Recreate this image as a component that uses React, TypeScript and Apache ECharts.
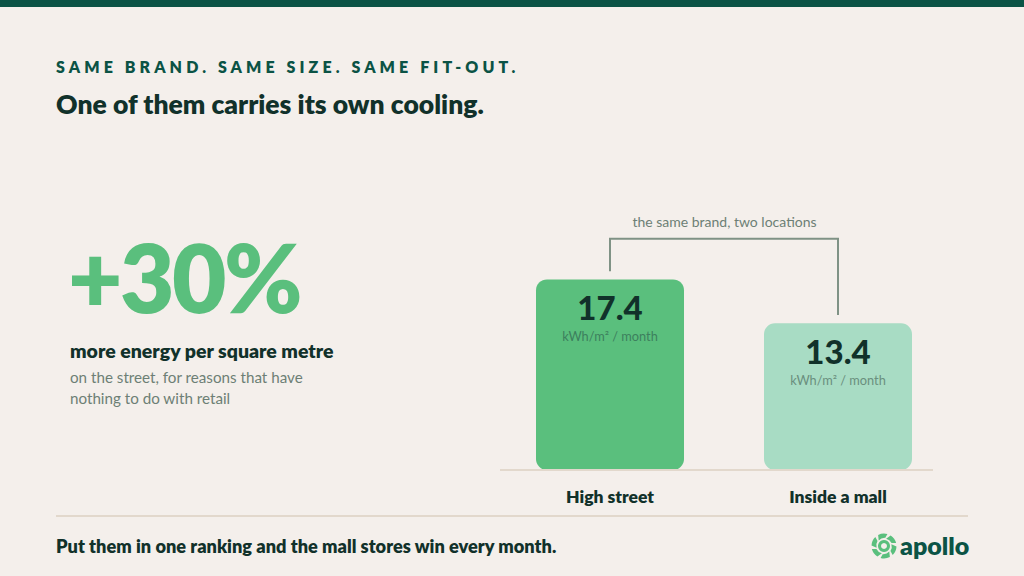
import React, { useEffect, useRef } from "react";
import * as echarts from "echarts";

const categories = ["High street", "Inside a mall"];
const values = [17.4, 13.4];
const barColors = ["#5abf7d", "#a8dcc4"];
const unitColors = ["#3d7f5e", "#6a8f7e"];
const unit = "kWh/m² / month";
const bracketTop = 21.1;
const bracketGap = 0.75;
const eyebrow = "SAME BRAND. SAME SIZE. SAME FIT-OUT.";
const title = "One of them carries its own cooling.";
const bigNumber = "+30%";
const subhead = "more energy per square metre";
const bodyLines = ["on the street, for reasons that have", "nothing to do with retail"];
const bracketLabel = "the same brand, two locations";
const takeaway = "Put them in one ranking and the mall stores win every month.";
const logoName = "apollo";

const FONT = "Lato";
const DARK = "#11312a";
const BRAND = "#0b5345";
const GREY = "#6d7f75";
const RULE = "#e2d8cc";

function petals() {
  let d = "";
  const pt = (r: number, a: number) => {
    const t = (a * Math.PI) / 180;
    return `${(r * Math.cos(t)).toFixed(2)} ${(r * Math.sin(t)).toFixed(2)}`;
  };
  for (let i = 0; i < 6; i++) {
    const a = i * 60;
    d += `M${pt(7.6, a - 14)} L${pt(12.5, a + 2)} A12.5 12.5 0 0 1 ${pt(12.5, a + 46)} L${pt(8.2, a + 38)} A8 8 0 0 0 ${pt(7.6, a - 14)} Z `;
  }
  return d;
}

echarts.graphic.registerShape("apolloPetals", echarts.graphic.extendPath(petals(), {}) as any);

const spacings: [string, number][] = [
  [eyebrow, 4.1],
  [bigNumber, -2.5],
];

export default function App() {
  const ref = useRef<HTMLDivElement>(null);
  useEffect(() => {
    const chart = echarts.init(ref.current!, undefined, { renderer: "svg" });
    const text = (t: string, x: number, y: number, font: number, weight: any, fill: string, extra: any = {}) => ({
      type: "text",
      x,
      y,
      style: { text: t, fontFamily: FONT, fontSize: font, fontWeight: weight, fill, textVerticalAlign: "middle", ...extra },
    });
    chart.setOption({
      animation: false,
      backgroundColor: "#f4efeb",
      grid: { left: 496, width: 456, top: 229, height: 241, containLabel: false },
      xAxis: {
        type: "category",
        data: categories,
        axisLine: { show: false },
        axisTick: { show: false },
        axisLabel: { color: DARK, fontFamily: FONT, fontSize: 17.5, fontWeight: 800, margin: 17 },
      },
      yAxis: { type: "value", min: 0, max: 22, show: false, splitLine: { show: false } },
      series: [
        {
          type: "bar",
          barWidth: 148,
          z: 3,
          data: values.map((v, i) => ({
            value: v,
            itemStyle: { color: barColors[i], borderRadius: 11 },
            label: {
              show: true,
              position: "insideTop",
              distance: 8,
              formatter: `{v|${v}}\n{u|${unit}}`,
              rich: {
                v: { color: DARK, fontFamily: FONT, fontSize: 33, fontWeight: 900, lineHeight: 40, align: "center" },
                u: { color: unitColors[i], fontFamily: FONT, fontSize: 12.8, lineHeight: 18, align: "center" },
              },
            },
          })),
        },
        {
          type: "custom",
          z: 2,
          clip: false,
          silent: true,
          data: [[0, values[0], 1, values[1]]],
          renderItem: (_: any, api: any) => {
            const a = api.coord([0, api.value(1) + bracketGap]);
            const b = api.coord([1, api.value(3) + bracketGap]);
            const t = api.coord([0, bracketTop]);
            return {
              type: "polyline",
              shape: { points: [a, [a[0], t[1]], [b[0], t[1]], b] },
              style: { fill: "none", stroke: "#7f9285", lineWidth: 2 },
            };
          },
        },
      ],
      graphic: [
        { type: "rect", shape: { x: 0, y: 0, width: 1024, height: 7 }, style: { fill: BRAND } },
        text(eyebrow, 56, 66, 16, 800, BRAND, {}),
        text(title, 56, 104, 26.5, 800, DARK),
        text(bigNumber, 68, 276, 94, 800, "#5abf7d"),
        text(subhead, 70, 350, 19.5, 800, DARK),
        text(bodyLines[0], 70, 377, 15.2, 400, GREY),
        text(bodyLines[1], 70, 398, 15.2, 400, GREY),
        text(bracketLabel, 724.5, 221, 14, 400, GREY, { textAlign: "center" }),
        { type: "line", z: 5, shape: { x1: 500, y1: 470, x2: 933, y2: 470 }, style: { stroke: RULE, lineWidth: 2 } },
        { type: "line", shape: { x1: 56, y1: 516, x2: 968, y2: 516 }, style: { stroke: RULE, lineWidth: 2 } },
        text(takeaway, 56, 546, 18.2, 800, DARK),
        { type: "apolloPetals", x: 884, y: 546, style: { fill: "#5abf7d" } },
        { type: "ring", shape: { cx: 884, cy: 546, r: 6, r0: 3 }, style: { fill: "#5abf7d" } },
        text(logoName, 900, 545, 25, 800, BRAND),
      ],
    });
    ref.current!.querySelectorAll("text").forEach((el) => {
      const hit = spacings.find(([s]) => s === el.textContent);
      if (hit) el.setAttribute("letter-spacing", String(hit[1]));
    });
    return () => chart.dispose();
  }, []);
  return <div ref={ref} style={{ position: "fixed", left: 0, top: 0, width: 1024, height: 576 }} />;
}
